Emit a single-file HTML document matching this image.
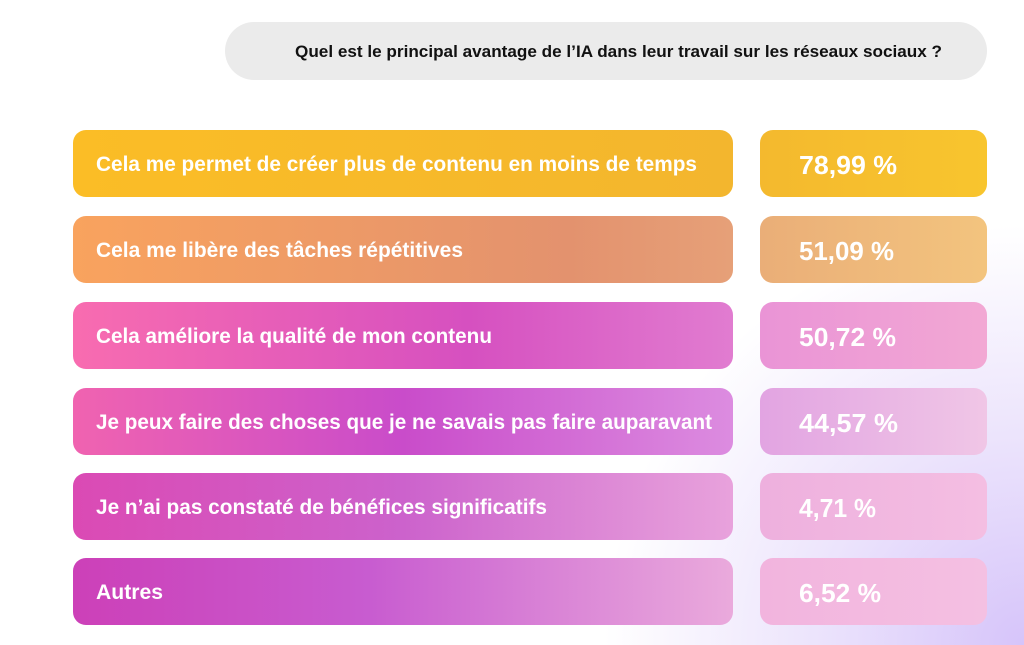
<!DOCTYPE html>
<html><head><meta charset="utf-8"><style>
html,body{margin:0;padding:0;background:#fff;}
svg{display:block;font-family:"Liberation Sans",sans-serif;font-weight:bold;}
</style></head><body>
<svg width="1024" height="645" viewBox="0 0 1024 645" xmlns="http://www.w3.org/2000/svg">
<defs>
<radialGradient id="bg" cx="1024" cy="645" r="420" gradientUnits="userSpaceOnUse">
<stop offset="0" stop-color="#d6c4fa"/><stop offset="0.5" stop-color="#ece4fc"/><stop offset="1" stop-color="#ffffff"/></radialGradient>
<linearGradient id="l1"><stop offset="0" stop-color="#fbbd26"/><stop offset="1" stop-color="#f3b62e"/></linearGradient>
<linearGradient id="r1"><stop offset="0" stop-color="#f4b92e"/><stop offset="1" stop-color="#f8c52e"/></linearGradient>
<linearGradient id="l2"><stop offset="0" stop-color="#f9a35e"/><stop offset="0.75" stop-color="#e3926e"/><stop offset="1" stop-color="#e6a078"/></linearGradient>
<linearGradient id="r2"><stop offset="0" stop-color="#eaae78"/><stop offset="1" stop-color="#f3c47e"/></linearGradient>
<linearGradient id="l3"><stop offset="0" stop-color="#f86cb0"/><stop offset="0.6" stop-color="#d650c0"/><stop offset="1" stop-color="#e17cd0"/></linearGradient>
<linearGradient id="r3"><stop offset="0" stop-color="#ea94d6"/><stop offset="1" stop-color="#f2a8d4"/></linearGradient>
<linearGradient id="l4"><stop offset="0" stop-color="#f063b0"/><stop offset="0.5" stop-color="#c94cca"/><stop offset="1" stop-color="#dc8ce0"/></linearGradient>
<linearGradient id="r4"><stop offset="0" stop-color="#e2a4e2"/><stop offset="1" stop-color="#f0c6e6"/></linearGradient>
<linearGradient id="l5"><stop offset="0" stop-color="#db4ab4"/><stop offset="0.5" stop-color="#cc62cc"/><stop offset="1" stop-color="#e8a2dc"/></linearGradient>
<linearGradient id="r5"><stop offset="0" stop-color="#eeb0de"/><stop offset="1" stop-color="#f4bee2"/></linearGradient>
<linearGradient id="l6"><stop offset="0" stop-color="#cc40b8"/><stop offset="0.45" stop-color="#c85cd0"/><stop offset="1" stop-color="#eaaadc"/></linearGradient>
<linearGradient id="r6"><stop offset="0" stop-color="#f2b4de"/><stop offset="1" stop-color="#f4c0e2"/></linearGradient>
</defs>
<rect width="1024" height="645" fill="url(#bg)"/>
<rect x="225" y="22" width="762" height="58" rx="29" fill="#ebebeb"/>
<text x="295" y="57" font-size="16.5" fill="#111" textLength="647" lengthAdjust="spacingAndGlyphs">Quel est le principal avantage de l’IA dans leur travail sur les réseaux sociaux ?</text>
<g fill="#fff">
<rect x="73" y="130" width="660" height="67" rx="13" fill="url(#l1)"/><rect x="760" y="130" width="227" height="67" rx="13" fill="url(#r1)"/>
<text x="96" y="171" font-size="21" textLength="601" lengthAdjust="spacingAndGlyphs">Cela me permet de créer plus de contenu en moins de temps</text>
<text x="799" y="174" font-size="26" textLength="98" lengthAdjust="spacingAndGlyphs">78,99 %</text>
<rect x="73" y="216" width="660" height="67" rx="13" fill="url(#l2)"/><rect x="760" y="216" width="227" height="67" rx="13" fill="url(#r2)"/>
<text x="96" y="257" font-size="21" textLength="367" lengthAdjust="spacingAndGlyphs">Cela me libère des tâches répétitives</text>
<text x="799" y="260" font-size="26" textLength="95" lengthAdjust="spacingAndGlyphs">51,09 %</text>
<rect x="73" y="302" width="660" height="67" rx="13" fill="url(#l3)"/><rect x="760" y="302" width="227" height="67" rx="13" fill="url(#r3)"/>
<text x="96" y="343" font-size="21" textLength="396" lengthAdjust="spacingAndGlyphs">Cela améliore la qualité de mon contenu</text>
<text x="799" y="346" font-size="26" textLength="97" lengthAdjust="spacingAndGlyphs">50,72 %</text>
<rect x="73" y="388" width="660" height="67" rx="13" fill="url(#l4)"/><rect x="760" y="388" width="227" height="67" rx="13" fill="url(#r4)"/>
<text x="96" y="429" font-size="21" textLength="616" lengthAdjust="spacingAndGlyphs">Je peux faire des choses que je ne savais pas faire auparavant</text>
<text x="799" y="432" font-size="26" textLength="99" lengthAdjust="spacingAndGlyphs">44,57 %</text>
<rect x="73" y="473" width="660" height="67" rx="13" fill="url(#l5)"/><rect x="760" y="473" width="227" height="67" rx="13" fill="url(#r5)"/>
<text x="96" y="514" font-size="21" textLength="451" lengthAdjust="spacingAndGlyphs">Je n’ai pas constaté de bénéfices significatifs</text>
<text x="799" y="517" font-size="26" textLength="77" lengthAdjust="spacingAndGlyphs">4,71 %</text>
<rect x="73" y="558" width="660" height="67" rx="13" fill="url(#l6)"/><rect x="760" y="558" width="227" height="67" rx="13" fill="url(#r6)"/>
<text x="96" y="599" font-size="21" textLength="67" lengthAdjust="spacingAndGlyphs">Autres</text>
<text x="799" y="602" font-size="26" textLength="82" lengthAdjust="spacingAndGlyphs">6,52 %</text>
</g>
</svg>
</body></html>
